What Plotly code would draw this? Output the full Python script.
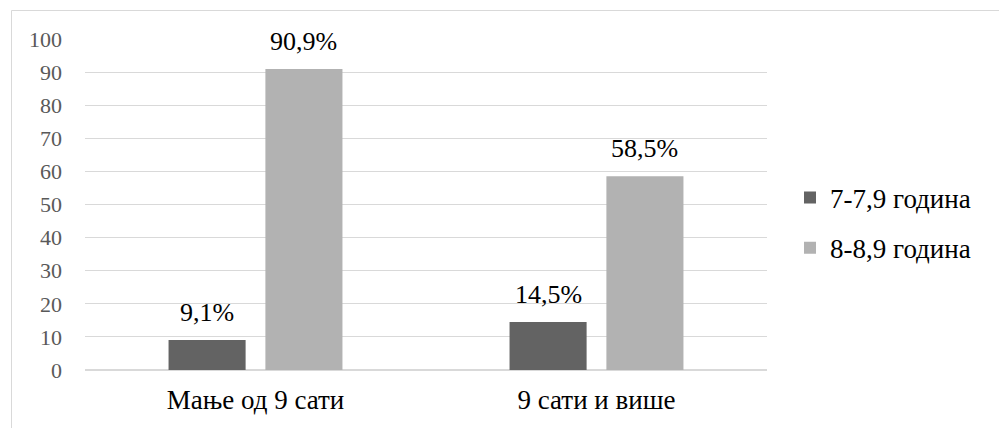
import plotly.graph_objects as go

# Sleep duration groups and the share of each age group within them
categories = ["Мање од 9 сати", "9 сати и више"]
series_names = ["7-7,9 година", "8-8,9 година"]
values_7 = [9.1, 14.5]
values_8 = [90.9, 58.5]
colors = ["#636363", "#b2b2b2"]
y_ticks = list(range(0, 101, 10))


def pct(v):
    return f"{v:.1f}".replace(".", ",") + "%"


serif = "Liberation Serif"

# Plot area in pixels: left 85, right 767, top 39, bottom 370
L, R, T, B = 85, 767, 39, 370
W, H = 999, 428
pw, ph = R - L, B - T

# Bar geometry in category units (one category = 1.0)
bar_w = 0.226
inner_gap = 0.058
offsets = [-(bar_w + inner_gap / 2), inner_gap / 2]
xpos = list(range(len(categories)))

fig = go.Figure()
annotations = []
for k, (name, vals, col) in enumerate(zip(series_names, [values_7, values_8], colors)):
    fig.add_trace(go.Bar(
        name=name,
        legendgroup=name,
        x=xpos,
        y=vals,
        width=bar_w,
        offset=offsets[k],
        marker=dict(color=col, line=dict(width=0)),
    ))
    for xi, v in zip(xpos, vals):
        annotations.append(dict(
            x=xi + offsets[k] + bar_w / 2, y=v, xref="x", yref="y",
            text=pct(v), showarrow=False, yanchor="bottom", yshift=11,
            font=dict(family=serif, size=26, color="#000000"),
        ))


def px_x(x):
    return (x - L) / pw


def px_y(y):
    return (B - y) / ph


fig.update_layout(
    width=W,
    height=H,
    margin=dict(l=L, r=W - R, t=T, b=H - B, pad=0),
    paper_bgcolor="white",
    plot_bgcolor="white",
    font=dict(family=serif, color="#000000"),
    annotations=annotations,
    legend=dict(
        x=px_x(790), y=px_y(223), xanchor="left", yanchor="middle",
        font=dict(family=serif, size=27, color="#000000"),
        itemwidth=30,
        traceorder="grouped",
        tracegroupgap=12,
        bgcolor="rgba(0,0,0,0)",
    ),
    showlegend=True,
    shapes=[dict(
        type="rect", xref="paper", yref="paper",
        x0=px_x(11.5), x1=px_x(1010), y0=px_y(440), y1=px_y(10.5),
        line=dict(color="#d9d9d9", width=1), fillcolor="rgba(0,0,0,0)",
        layer="below",
    )],
)

fig.update_yaxes(
    range=[0, 100],
    tickvals=y_ticks,
    showgrid=True,
    gridcolor="#d9d9d9",
    gridwidth=1,
    zeroline=True,
    zerolinecolor="#d9d9d9",
    showline=False,
    ticks="",
    ticklabelstandoff=22,
    tickfont=dict(family=serif, size=22, color="#595959"),
)
fig.update_xaxes(
    range=[-0.5, len(categories) - 0.5],
    tickvals=xpos,
    ticktext=categories,
    showgrid=False,
    showline=False,
    zeroline=False,
    ticks="",
    ticklabelstandoff=11,
    tickfont=dict(family=serif, size=27, color="#000000"),
)

fig.write_html("out.html")
